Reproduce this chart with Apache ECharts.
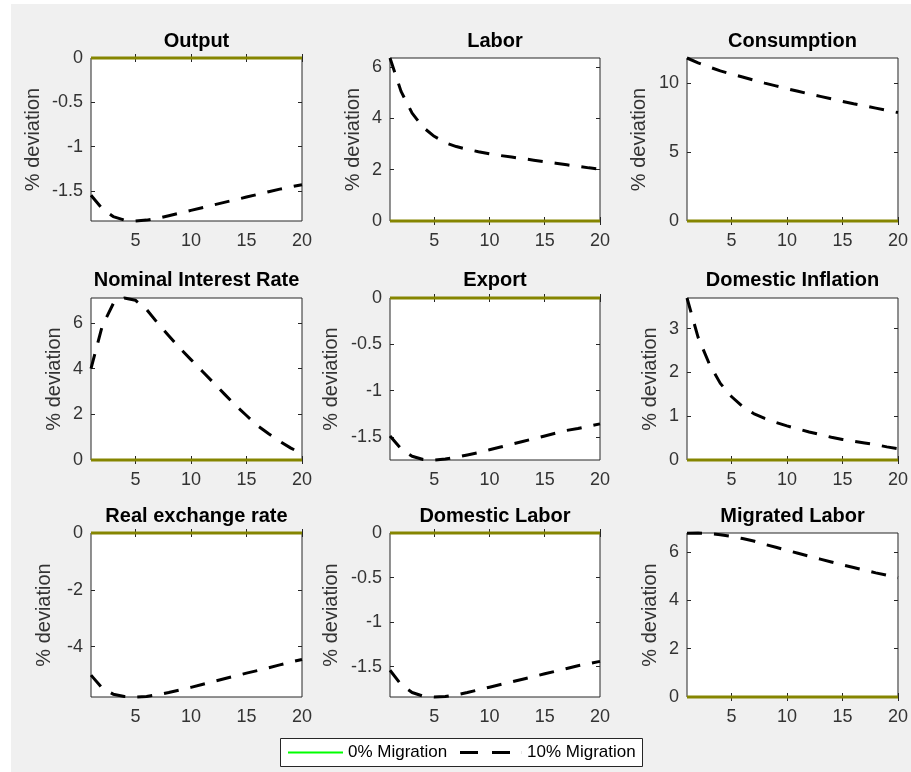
<!DOCTYPE html>
<html>
<head>
<meta charset="utf-8">
<script src="https://cdn.jsdelivr.net/npm/echarts@6/dist/echarts.min.js"></script>
<style>
  html, body { margin: 0; padding: 0; background: #fff; }
  #figure { position: absolute; left: 11px; top: 4px; width: 900px; height: 768px; background: #f0f0f0; }
  #chart { position: absolute; left: 0; top: 0; width: 911px; height: 772px; }
</style>
</head>
<body>
<div id="figure"></div>
<div id="chart"></div>
<script>
// 3x3 脉冲响应：0% 迁移（零线）对比 10% 迁移（虚线），横轴为期数 1–20。
const periods = [1, 2, 3, 4, 5, 6, 7, 8, 9, 10, 11, 12, 13, 14, 15, 16, 17, 18, 19, 20];
const zeroMigration = [0, 0, 0, 0, 0, 0, 0, 0, 0, 0, 0, 0, 0, 0, 0, 0, 0, 0, 0, 0];

const output = [-1.55, -1.70, -1.79, -1.83, -1.84, -1.83, -1.81, -1.78, -1.75, -1.72,
  -1.69, -1.66, -1.63, -1.60, -1.57, -1.54, -1.51, -1.48, -1.455, -1.43];
const labor = [6.35, 5.05, 4.2, 3.65, 3.3, 3.05, 2.9, 2.79, 2.70, 2.62,
  2.55, 2.49, 2.43, 2.37, 2.31, 2.25, 2.19, 2.13, 2.07, 2.02];
const consumption = [11.8, 11.45, 11.15, 10.87, 10.64, 10.42, 10.2, 9.98, 9.78, 9.58,
  9.39, 9.2, 9.02, 8.84, 8.66, 8.49, 8.33, 8.17, 8.01, 7.85];
const nominalRate = [4.0, 5.85, 6.85, 7.1, 7.0, 6.6, 6.0, 5.45, 4.9, 4.4,
  3.9, 3.4, 2.9, 2.4, 1.95, 1.5, 1.15, 0.82, 0.52, 0.28];
const exportDev = [-1.49, -1.63, -1.71, -1.745, -1.75, -1.74, -1.72, -1.695, -1.67, -1.64,
  -1.61, -1.58, -1.55, -1.52, -1.49, -1.46, -1.43, -1.41, -1.385, -1.36];
const domesticInflation = [3.7, 2.8, 2.2, 1.75, 1.45, 1.22, 1.06, 0.95, 0.86, 0.78,
  0.71, 0.64, 0.58, 0.52, 0.47, 0.43, 0.39, 0.35, 0.30, 0.26];
const realExchange = [-5.0, -5.45, -5.67, -5.75, -5.77, -5.75, -5.69, -5.61, -5.52, -5.43,
  -5.33, -5.23, -5.13, -5.03, -4.93, -4.84, -4.74, -4.64, -4.54, -4.45];
const domesticLabor = [-1.54, -1.70, -1.79, -1.83, -1.84, -1.835, -1.815, -1.79, -1.76, -1.73,
  -1.70, -1.67, -1.64, -1.61, -1.58, -1.55, -1.52, -1.49, -1.465, -1.44];
const migratedLabor = [6.78, 6.79, 6.77, 6.72, 6.65, 6.56, 6.46, 6.32, 6.2, 6.07,
  5.95, 5.83, 5.71, 5.59, 5.47, 5.36, 5.25, 5.14, 5.04, 4.94];

const titles = ['Output', 'Labor', 'Consumption', 'Nominal Interest Rate', 'Export',
  'Domestic Inflation', 'Real exchange rate', 'Domestic Labor', 'Migrated Labor'];
const xTicks = [5, 10, 15, 20];
const yTicks = [
  [-1.5, -1, -0.5, 0], [0, 2, 4, 6], [0, 5, 10],
  [0, 2, 4, 6], [-1.5, -1, -0.5, 0], [0, 1, 2, 3],
  [-4, -2, 0], [-1.5, -1, -0.5, 0], [0, 2, 4, 6],
];
const seriesValues = [output, labor, consumption, nominalRate, exportDev,
  domesticInflation, realExchange, domesticLabor, migratedLabor];
const legendNames = ['0% Migration', '10% Migration'];

// 版面（像素）
const colLeft = [91, 390, 687];
const colWidth = [211, 210, 211];
const rowTop = [58, 298, 533];
const rowHeight = [163, 162, 164];
const titleTop = [31, 270, 506];
const nameGaps = [48, 27, 38, 27, 49, 27, 37, 49, 27];

const FONT = '"Liberation Sans", Arial, Helvetica, sans-serif';
const AXIS_COLOR = '#262626';
const LABEL_COLOR = '#333';
const OLIVE = '#858500';

const grid = [], xAxis = [], yAxis = [], title = [], series = [];

seriesValues.forEach((vals, i) => {
  const r = Math.floor(i / 3), c = i % 3;
  const yMin = Math.min(0, ...vals);
  const yMax = Math.max(0, ...vals);
  grid.push({
    left: colLeft[c], top: rowTop[r], width: colWidth[c], height: rowHeight[r],
    show: true, backgroundColor: '#fff', borderColor: AXIS_COLOR, borderWidth: 1,
  });
  title.push({
    text: titles[i], left: colLeft[c] + colWidth[c] / 2, top: titleTop[r],
    textAlign: 'center', textVerticalAlign: 'top', padding: 0,
    textStyle: { fontFamily: FONT, fontSize: 20, fontWeight: 'bold', color: '#000' },
  });

  const tick = (vals) => ({ inside: true, length: 4, customValues: vals, lineStyle: { color: AXIS_COLOR } });
  xAxis.push({
    gridIndex: i, type: 'value', min: 1, max: 20, position: 'bottom',
    axisLine: { show: false }, splitLine: { show: false },
    axisTick: tick(xTicks),
    axisLabel: { customValues: xTicks, margin: 11, fontFamily: FONT, fontSize: 18, color: LABEL_COLOR },
  });
  xAxis.push({
    gridIndex: i, type: 'value', min: 1, max: 20, position: 'top',
    axisLine: { show: false }, splitLine: { show: false },
    axisTick: tick(xTicks), axisLabel: { show: false },
  });
  yAxis.push({
    gridIndex: i, type: 'value', min: yMin, max: yMax, position: 'left',
    name: '% deviation', nameLocation: 'middle', nameRotate: 90, nameGap: nameGaps[i],
    nameTextStyle: { fontFamily: FONT, fontSize: 20, color: LABEL_COLOR },
    axisLine: { show: false }, splitLine: { show: false },
    axisTick: tick(yTicks[i]),
    axisLabel: { customValues: yTicks[i], margin: 8, fontFamily: FONT, fontSize: 18, color: LABEL_COLOR },
  });
  yAxis.push({
    gridIndex: i, type: 'value', min: yMin, max: yMax, position: 'right',
    axisLine: { show: false }, splitLine: { show: false },
    axisTick: tick(yTicks[i]), axisLabel: { show: false },
  });

  series.push({
    name: legendNames[1], type: 'line', xAxisIndex: 2 * i, yAxisIndex: 2 * i,
    data: periods.map((p, k) => [p, vals[k]]),
    symbol: 'none', clip: false, z: 2,
    lineStyle: { color: '#000', width: 3, type: [15, 12] },
    itemStyle: { color: '#000' },
  });
  series.push({
    name: legendNames[0], type: 'line', xAxisIndex: 2 * i, yAxisIndex: 2 * i,
    data: periods.map((p, k) => [p, zeroMigration[k]]),
    symbol: 'none', clip: false, z: 3,
    lineStyle: { color: OLIVE, width: 3 },
    itemStyle: { color: OLIVE },
  });
});

const legendText = { fontFamily: FONT, fontSize: 17, color: '#000' };

const chart = echarts.init(document.getElementById('chart'));
chart.setOption({
  backgroundColor: 'transparent',
  animation: false,
  title, grid, xAxis, yAxis, series,
  graphic: [{
    type: 'rect', left: 280, top: 738, z: -1,
    shape: { width: 362, height: 28 },
    style: { fill: '#fff', stroke: AXIS_COLOR, lineWidth: 1 },
  }],
  legend: [
    {
      left: 288, top: 744, padding: 0, itemWidth: 55, itemHeight: 2,
      selectedMode: false, textStyle: legendText,
      data: [{ name: legendNames[0], icon: 'path://M0,0h55v2h-55z', itemStyle: { color: '#00ff00' } }],
    },
    {
      left: 460, top: 744, padding: 0, itemWidth: 62, itemHeight: 3,
      selectedMode: false, textStyle: legendText,
      data: [{ name: legendNames[1], icon: 'path://M0,0h18v3h-18zM32,0h18v3h-18zM61.9,0h0.1v3h-0.1z', itemStyle: { color: '#000' } }],
    },
  ],
});
</script>
</body>
</html>
